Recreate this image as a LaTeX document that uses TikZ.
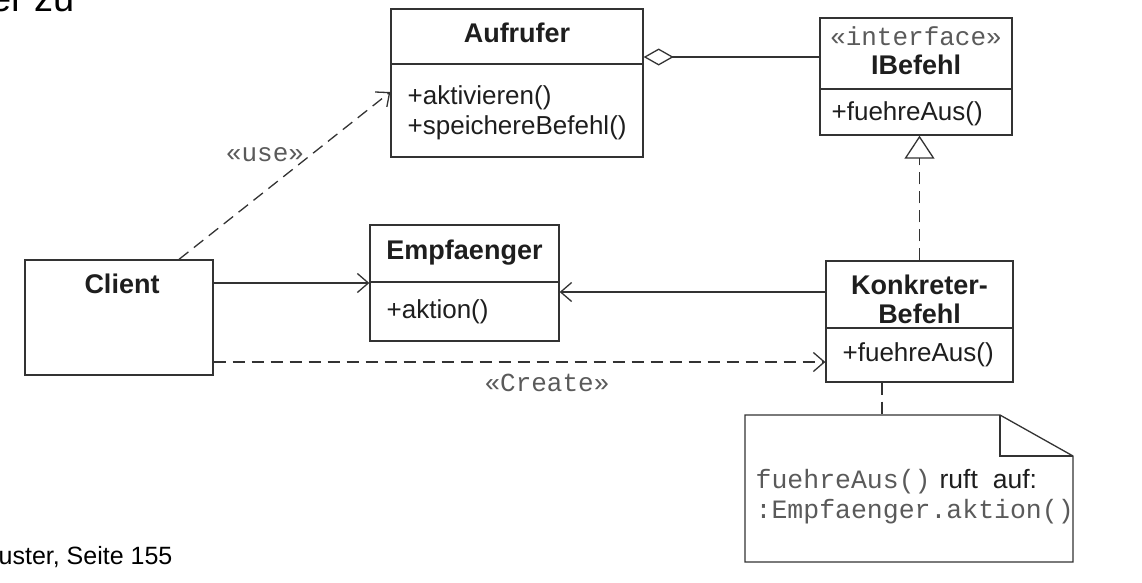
\documentclass[tikz,border=0pt]{standalone}
\usepackage{fontspec}
\setmainfont{Liberation Sans}
\setmonofont{Liberation Mono}
\usetikzlibrary{arrows.meta}
\definecolor{umlline}{HTML}{333333}
\definecolor{umltext}{HTML}{1E1E1E}
\definecolor{stereo}{HTML}{5A5A5A}

\begin{document}
\begin{tikzpicture}[x=1pt,y=-1pt,line width=1.3pt,
  every node/.style={font=\fontsize{26}{30}\selectfont,text=umltext,inner sep=0pt},
  classbox/.style={draw=umlline,line width=1.3pt},
  cname/.style={font=\bfseries\fontsize{27}{30}\selectfont,anchor=base},
  member/.style={anchor=base west},
  stereotype/.style={font=\ttfamily\fontsize{26}{30}\selectfont,text=stereo,anchor=base},
  notetext/.style={anchor=base west,font=\ttfamily\fontsize{26.5}{30}\selectfont,text=stereo},
  openhead/.style={-{Straight Barb[length=11pt,width=19pt,line width=1.3pt]}},
  dashline/.style={dash pattern=on 12pt off 7pt}]
\useasboundingbox (0,0) rectangle (1142,582);

% class boxes
\node[classbox,minimum width=252pt,minimum height=148pt] (aufrufer) at (517,83) {};
\node[classbox,minimum width=192pt,minimum height=117pt] (ibefehl) at (916,76.5) {};
\node[classbox,minimum width=189pt,minimum height=116pt] (empf) at (464.5,283) {};
\node[classbox,minimum width=188pt,minimum height=115pt] (client) at (119,317.5) {};
\node[classbox,minimum width=187pt,minimum height=121pt] (konkret) at (919.5,321.5) {};

% dividers
\draw[umlline] (aufrufer.west |- 0,64) -- (aufrufer.east |- 0,64);
\draw[umlline] (ibefehl.west |- 0,89) -- (ibefehl.east |- 0,89);
\draw[umlline] (empf.west |- 0,282) -- (empf.east |- 0,282);
\draw[umlline] (konkret.west |- 0,328) -- (konkret.east |- 0,328);

% texts
\node[cname] (aufname) at (517,42) {Aufrufer};
\node[member] (aufm1) at (407,104) {+aktivieren()};
\node[member] (aufm2) at (407,134) {+speichereBefehl()};
\node[stereotype] (ibster) at (916,45) {«interface»};
\node[cname] (ibname) at (916,74) {IBefehl};
\node[member] (ibm1) at (831,120) {+fuehreAus()};
\node[cname] (empname) at (464.5,259) {Empfaenger};
\node[member] (empm1) at (386,318) {+aktion()};
\node[cname] (clname) at (122,293) {Client};
\node[cname] (kbname1) at (919.5,294) {Konkreter-};
\node[cname] (kbname2) at (919.5,323) {Befehl};
\node[member] (kbm1) at (842,361) {+fuehreAus()};

% note
\draw[umlline] (745,415) -- (1000,415) -- (1073,456) -- (1073,562) -- (745,562) -- cycle;
\draw[umlline] (1000,415) -- (1000,456) -- (1073,456);
\coordinate (notetop) at (882,415);
\node[notetext] (notel1) at (755,488) {fuehreAus()\rmfamily\color{umltext}\hspace{9pt}ruft\hspace{15pt}auf:};
\node[notetext] (notel2) at (755,518) {:Empfaenger.aktion()};

% connectors
\draw[umlline,{Diamond[open,length=30pt,width=17pt,line width=1.3pt]}-] (aufrufer.east |- 0,57) -- (ibefehl.west |- 0,57);
\draw[umlline,dashline,openhead] (client.north -| 179,0) -- (aufrufer.west |- 0,92);
\draw[umlline,openhead] (client.east |- 0,283) -- (empf.west |- 0,283);
\draw[umlline,openhead] (konkret.west |- 0,292) -- (empf.east |- 0,292);
\draw[umlline,dashline,openhead] (client.east |- 0,362) -- (konkret.west |- 0,362);
\draw[umlline,dashline,-{Triangle[open,length=23pt,width=30pt,line width=1.3pt]}] (konkret.north) -- (ibefehl.south -| konkret.north);
\draw[umlline,dashline] (konkret.south -| notetop) -- (notetop);

% labels
\node[stereotype] (uselbl) at (265,161) {«use»};
\node[stereotype] (createlbl) at (547,391) {«Create»};
\node[anchor=base west,font=\fontsize{38}{40}\selectfont,text=black] (kapitel) at (-10,11) {er zu};
\node[anchor=base west,font=\fontsize{25}{28}\selectfont,text=black] (quelle) at (-2,564) {uster, Seite 155};
\end{tikzpicture}
\end{document}
